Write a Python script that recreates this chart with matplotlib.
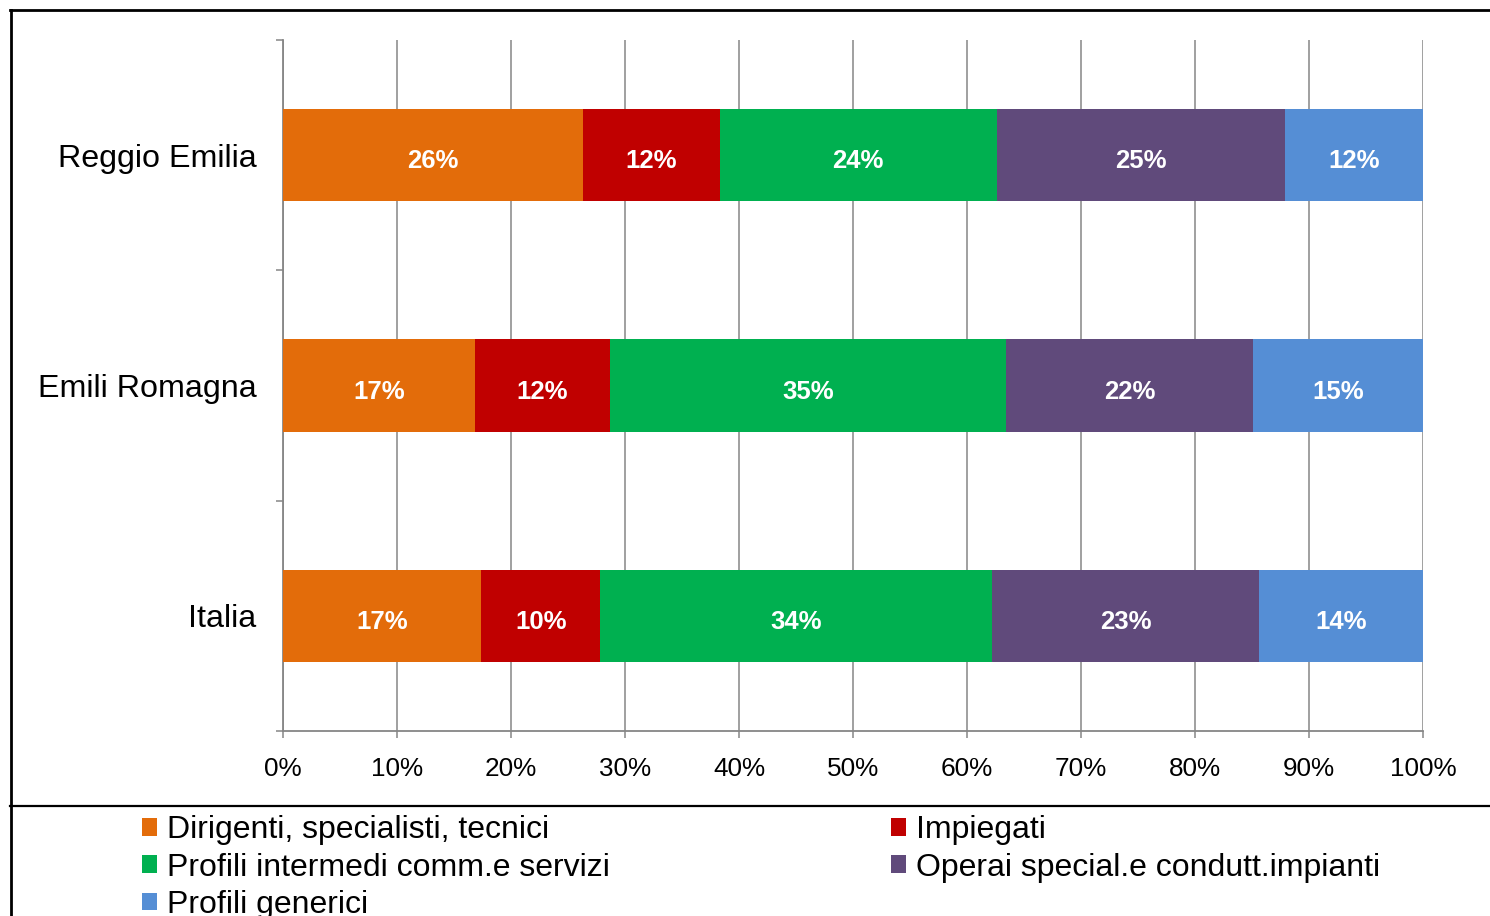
import matplotlib.pyplot as plt
from matplotlib.lines import Line2D
import numpy as np

plt.rcParams['font.family'] = ['Liberation Sans', 'DejaVu Sans']

# data (shares in %), bottom to top as drawn
areas = ["Italia", "Emili Romagna", "Reggio Emilia"]
series = ["Dirigenti, specialisti, tecnici", "Impiegati",
          "Profili intermedi comm.e servizi", "Operai special.e condutt.impianti",
          "Profili generici"]
dirigenti = [17.4, 16.8, 26.3]
impiegati = [10.4, 11.9, 12.0]
intermedi = [34.4, 34.7, 24.3]
operai = [23.4, 21.7, 25.3]
generici = [14.4, 14.9, 12.1]
xticks = np.arange(0, 101, 10)

colors = ["#E36C0A", "#C00000", "#00B050", "#604A7B", "#558ED5"]
grey = "#868686"

fig = plt.figure(figsize=(14.9, 9.16), dpi=100)
ax = fig.add_axes([283/1490, 1-731/916, (1423-283)/1490, (731-40)/916])

y = np.arange(len(areas))
left = np.zeros(len(areas))
conts = []
for vals, name, c in zip([dirigenti, impiegati, intermedi, operai, generici], series, colors):
    vals = np.array(vals)
    bc = ax.barh(y, vals, left=left, height=0.4, color=c, label=name, zorder=3)
    for yi, l, v in zip(y, left, vals):
        ax.annotate(f"{v:.0f}%", (l + v/2, yi), xytext=(0, -4.5), textcoords='offset points',
                    ha='center', va='center', color='white', fontweight='bold',
                    fontsize=18.5, zorder=4)
    conts.append(bc)
    left += vals

ax.set_xlim(0, 100)
ax.set_ylim(-0.5, 2.5)
ax.set_xticks(xticks)
ax.set_xticklabels([f"{t}%" for t in xticks], fontsize=18.8)
ax.set_yticks(y)
ax.set_yticklabels(areas, fontsize=23.2)
ax.set_yticks(np.arange(-0.5, 2.6, 1), minor=True)
ax.tick_params(axis='y', which='major', length=0, pad=19)
ax.tick_params(axis='y', which='minor', length=5, width=1.1, color=grey, direction='out')
ax.tick_params(axis='x', length=5, width=1.1, color=grey, pad=13.5)
ax.xaxis.grid(True, color=grey, lw=1.1, zorder=0)
ax.set_axisbelow(True)
for s in ['top', 'right']:
    ax.spines[s].set_visible(False)
for s in ['left', 'bottom']:
    ax.spines[s].set_color(grey)
    ax.spines[s].set_linewidth(1.3)

# legend: column-major fill gives the row order of the original
order = [0, 2, 4, 1, 3]
leg = fig.legend([conts[i] for i in order], [series[i] for i in order], ncol=2,
                 loc='upper left', bbox_to_anchor=(123/1490, 1-796/916), frameon=False,
                 fontsize=23, handlelength=0.47, handleheight=0.47, handletextpad=0.31,
                 columnspacing=8.8, labelspacing=0.23, borderpad=0.1)

# outer frame of the chart area
fig.add_artist(Line2D([10/1490, 1.01], [1-10/916]*2, color='black', lw=2))
fig.add_artist(Line2D([11/1490]*2, [1-10/916, -0.01], color='black', lw=2))
fig.add_artist(Line2D([10/1490, 1.01], [1-806/916]*2, color='black', lw=1.6))

fig.savefig("out.png", dpi=100)
